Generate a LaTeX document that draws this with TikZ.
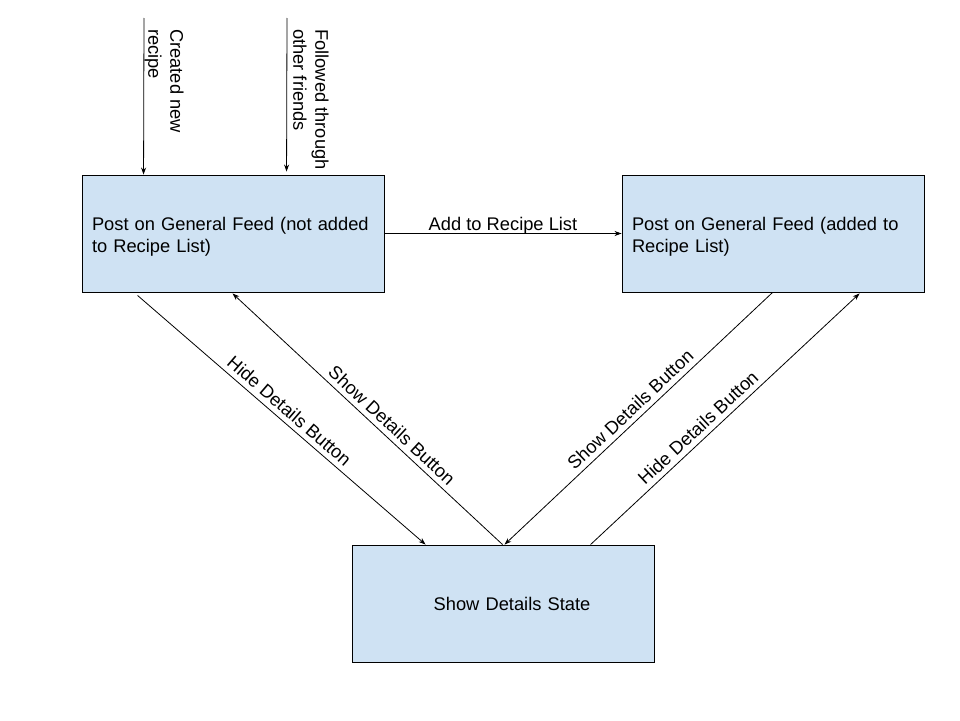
\documentclass[tikz,border=0pt]{standalone}
\usepackage{fontspec}
\setmainfont{Liberation Sans}
\usetikzlibrary{arrows.meta}
\definecolor{boxblue}{HTML}{CFE2F3}
\tikzset{
  statebox/.style={draw=black, line width=0.9pt, fill=boxblue, text width=282pt, inner xsep=10pt, inner ysep=0pt, minimum height=117pt, align=left, font=\fontsize{18.3}{22}\selectfont},
  conn/.style={line width=0.8pt, -{Stealth[length=7pt,width=5pt]}},
  lbl/.style={font=\fontsize{18.3}{22}\selectfont, inner sep=2pt},
}
\begin{document}
\begin{tikzpicture}[x=1pt,y=-1pt]
\useasboundingbox (0,0) rectangle (960,720);
\node[statebox] (A) at (233,233.5) {\rule{0pt}{19.5pt}Post on General Feed (not added\\to Recipe List)};
\node[statebox] (B) at (773,233.5) {\rule{0pt}{19.5pt}Post on General Feed (added to\\Recipe List)};
\node[statebox, align=center] (C) at (503,603.5) {\hspace*{18pt}Show Details State};

\coordinate (t1) at (144,18);
\coordinate (t2) at (287,18);
\draw[conn] (t1) -- ([xshift=62pt]A.north west);
\draw[conn] (t2) -- ([xshift=205pt,yshift=3pt]A.north west);
\node[lbl, rotate=-90, anchor=west, align=left, inner sep=0pt] (l1) at (164,29) {Created new\\recipe};
\node[lbl, rotate=-90, anchor=west, align=left, inner sep=0pt] (l2) at (311,29) {Followed through\\other friends};

\draw[conn] (A.east) -- node[lbl, above, inner sep=0pt, yshift=-1pt] (la) {Add to Recipe List} (B.west |- A.east);

\draw[conn] ([xshift=56pt,yshift=-3pt]A.south west) -- node[lbl, sloped, above=3pt, pos=0.50] (lh1) {Hide Details Button} ([xshift=74pt]C.north west);
\draw[conn] ([xshift=151pt]C.north west) -- node[lbl, sloped, above=3pt, pos=0.44] (ls1) {Show Details Button} ([xshift=151pt,yshift=-1pt]A.south west);
\draw[conn] ([xshift=151pt]B.south west) -- node[lbl, sloped, above=3pt, pos=0.50] (ls2) {Show Details Button} ([xshift=153pt]C.north west);
\draw[conn] ([xshift=239pt]C.north west) -- node[lbl, sloped, above=3pt, pos=0.43] (lh2) {Hide Details Button} ([xshift=238pt,yshift=-1pt]B.south west);
\end{tikzpicture}
\end{document}
